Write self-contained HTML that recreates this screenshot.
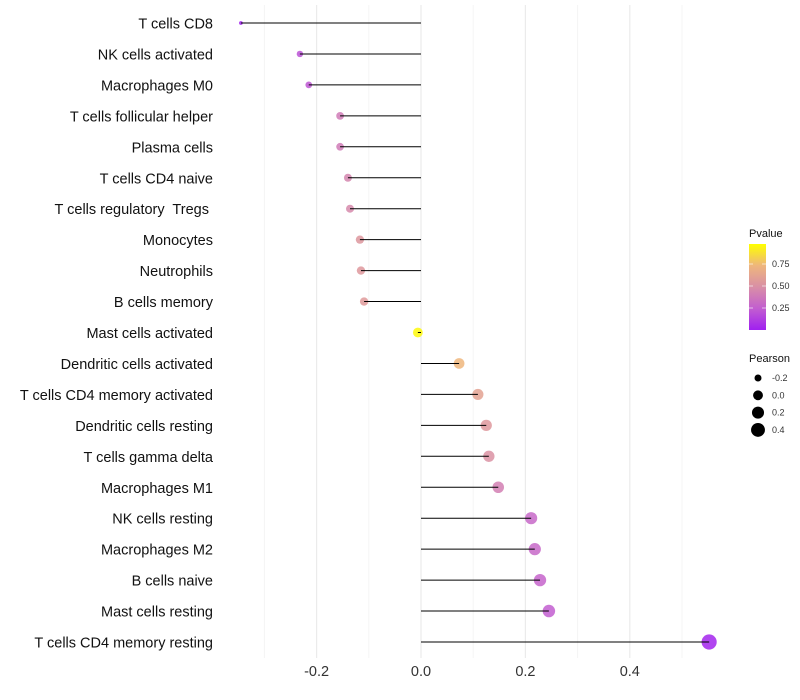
<!DOCTYPE html>
<html><head><meta charset="utf-8"><style>
body{margin:0;background:#fff;font-family:"Liberation Sans",sans-serif}
svg{display:block}
text{white-space:pre}
</style></head><body>
<svg id="chart" width="800" height="700" xmlns="http://www.w3.org/2000/svg">
<defs><linearGradient id="pg" x1="0" y1="1" x2="0" y2="0">
<stop offset="0" stop-color="#a020f0"/><stop offset="0.25" stop-color="#c25ed0"/><stop offset="0.5" stop-color="#d98fa6"/><stop offset="0.75" stop-color="#eeb67c"/><stop offset="1" stop-color="#ffff00"/></linearGradient></defs>
<g id="grid"></g><g id="marks"></g><g id="labels"></g><g id="legend"></g>
</svg>
<script>
const categories=["T cells CD8","NK cells activated","Macrophages M0","T cells follicular helper","Plasma cells","T cells CD4 naive","T cells regulatory  Tregs ","Monocytes","Neutrophils","B cells memory","Mast cells activated","Dendritic cells activated","T cells CD4 memory activated","Dendritic cells resting","T cells gamma delta","Macrophages M1","NK cells resting","Macrophages M2","B cells naive","Mast cells resting","T cells CD4 memory resting"];
const pearson=[-0.345,-0.232,-0.215,-0.155,-0.155,-0.14,-0.136,-0.117,-0.115,-0.109,-0.006,0.073,0.109,0.125,0.13,0.148,0.211,0.218,0.228,0.245,0.552];
const pvalue=[0.01,0.2,0.22,0.4,0.4,0.45,0.47,0.55,0.56,0.57,0.98,0.75,0.62,0.56,0.52,0.42,0.3,0.3,0.28,0.25,0.02];
const xTicks=[-0.2,0.0,0.2,0.4];
const xTickLabels=["-0.2","0.0","0.2","0.4"];
const xMinor=[-0.3,-0.1,0.1,0.3,0.5];
const sizeLegend=[-0.2,0.0,0.2,0.4];
const NS="http://www.w3.org/2000/svg";
function X(v){return 421+v*522;}
function Y(i){return 23+i*30.95;}
function R(v){return Math.sqrt(Math.max(2.25,24.25+60*v));}
const stops=[[0,[160,32,240]],[0.25,[194,94,208]],[0.5,[217,143,166]],[0.75,[238,182,124]],[1,[255,255,0]]];
function col(p){for(let i=0;i<stops.length-1;i++){const a=stops[i],b=stops[i+1];if(p<=b[0]){const t=(p-a[0])/(b[0]-a[0]);return 'rgb('+a[1].map((c,k)=>Math.round(c+(b[1][k]-c)*t)).join(',')+')';}}return 'rgb(255,255,0)';}
function mk(t,a,p){const e=document.createElementNS(NS,t);for(const k in a)e.setAttribute(k,a[k]);p.appendChild(e);return e;}
const grid=document.getElementById('grid'),marks=document.getElementById('marks'),labels=document.getElementById('labels'),legend=document.getElementById('legend');
xMinor.forEach(v=>{const l=mk('line',{x1:X(v),x2:X(v),y1:5,y2:658,stroke:'#f4f4f4','stroke-width':1},grid);

});
xTicks.forEach((v,i)=>{const l=mk('line',{x1:X(v),x2:X(v),y1:5,y2:658,stroke:'#ebebeb','stroke-width':1.2},grid);


const t=mk('text',{x:X(v),y:676,'text-anchor':'middle','font-size':14.5,fill:'#333'},labels);t.textContent=xTickLabels[i];

});
categories.forEach((c,i)=>{const y=Y(i);
const t=mk('text',{x:213,y:y+5.5,'text-anchor':'end','font-size':14.5,fill:'#111'},labels);t.textContent=c;


const d=mk('circle',{cx:X(pearson[i]),cy:y,r:R(pearson[i]),fill:col(pvalue[i]),'fill-opacity':0.85},marks);


const l=mk('line',{x1:X(0),x2:X(pearson[i]),y1:y,y2:y,stroke:'#000','stroke-width':1},marks);

});
let t=mk('text',{x:749,y:237,'font-size':11,fill:'#111'},legend);t.textContent='Pvalue';


const bar=mk('rect',{x:749,y:244,width:17,height:86,fill:'url(#pg)'},legend);


[[0.25,"0.25"],[0.5,"0.50"],[0.75,"0.75"]].forEach(([v,s])=>{const y=330-v*88;
mk('line',{x1:749,x2:753,y1:y,y2:y,stroke:'#fff','stroke-opacity':0.6},legend);mk('line',{x1:762,x2:766,y1:y,y2:y,stroke:'#fff','stroke-opacity':0.6},legend);
const tt=mk('text',{x:772,y:y+3,'font-size':9,fill:'#333'},legend);tt.textContent=s;

});
t=mk('text',{x:749,y:362,'font-size':11,fill:'#111'},legend);t.textContent='Pearson';


sizeLegend.forEach((v,i)=>{const y=378+i*17.3;
const c=mk('circle',{cx:758,cy:y,r:R(v),fill:'#000'},legend);


const tt=mk('text',{x:772,y:y+3,'font-size':9,fill:'#333'},legend);tt.textContent=v.toFixed(1);

});
</script>
</body></html>
